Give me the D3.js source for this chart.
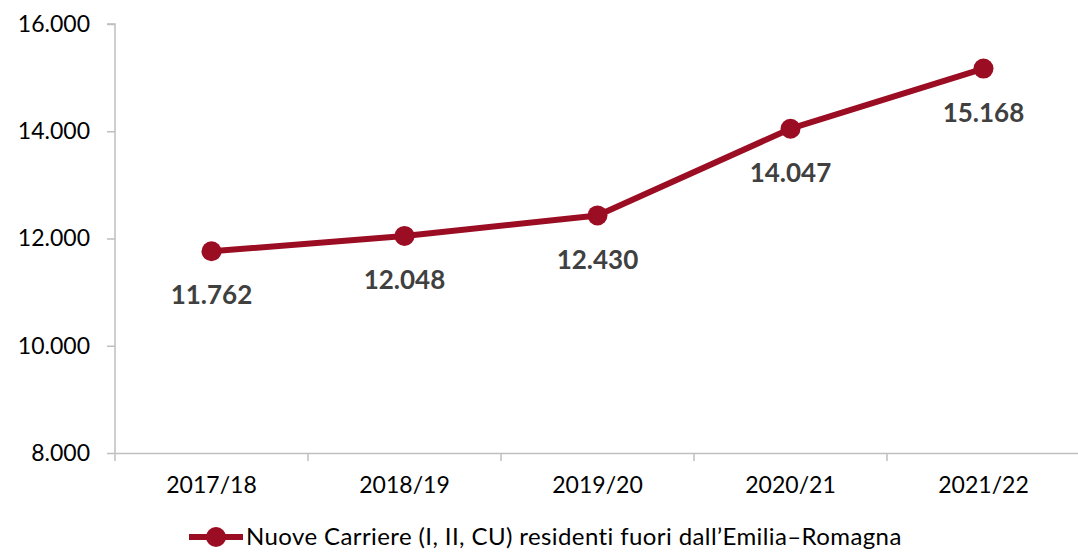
<!DOCTYPE html>
<html>
<head>
<meta charset="utf-8">
<script src="https://cdn.jsdelivr.net/npm/d3@7"></script>
<style>
    body { margin: 0; background: #fff; }
    text { font-family: Lato, "Noto Sans", sans-serif; }
</style>
</head>
<body>
<svg width="1078" height="553"></svg>
<script>
var years = ["2017/18", "2018/19", "2019/20", "2020/21", "2021/22"];
var careers = [11762, 12048, 12430, 14047, 15168];
var yTicks = [8000, 10000, 12000, 14000, 16000];
var seriesName = "Nuove Carriere (I, II, CU) residenti fuori dall\u2019Emilia\u2013Romagna";

var red = "#9b0d23";
var svg = d3.select("svg");

var fmt = d3.formatLocale({ decimal: ",", thousands: ".", grouping: [3], currency: ["", "€"] }).format(",");

var xScale = d3.scaleBand().domain(years).range([115, 1080]);
var yScale = d3.scaleLinear().domain([8000, 16000]).range([453, 24]);

// Y axis
var yAxis = d3.axisLeft(yScale).tickValues(yTicks).tickSize(8).tickFormat(fmt);
var yG = svg.append("g").attr("transform", "translate(115,0)").call(yAxis);
yG.select(".domain").attr("stroke", "#bfbfbf").attr("stroke-width", 1.5).attr("d", "M-8,24H0V453");
yG.selectAll(".tick line").attr("stroke", "#bfbfbf").attr("stroke-width", 1.5);
yG.selectAll(".tick text").attr("x", -25).attr("fill", "#000").style("font-size", "23px");

// X axis
var xAxis = d3.axisBottom(xScale).tickSize(0).tickSizeOuter(0);
var xG = svg.append("g").attr("transform", "translate(0,453)").call(xAxis);
xG.select(".domain").attr("stroke", "#bfbfbf").attr("stroke-width", 1.5);
xG.selectAll(".tick text").attr("y", 24).attr("dy", "0.71em").attr("fill", "#000").style("font-size", "23px");

// X tick marks at band edges
var edges = years.map(d => xScale(d)).concat([xScale.range()[1]]);
xG.selectAll(".edge")
    .data(edges)
    .enter()
    .append("line")
    .attr("x1", d => d)
    .attr("x2", d => d)
    .attr("y1", 0)
    .attr("y2", 8)
    .attr("stroke", "#bfbfbf")
    .attr("stroke-width", 1.5);

var cx = d => xScale(d) + xScale.bandwidth() / 2;

// Line
var line = d3.line()
    .x((d, i) => cx(years[i]))
    .y(d => yScale(d));

svg.append("path")
    .attr("d", line(careers))
    .attr("fill", "none")
    .attr("stroke", red)
    .attr("stroke-width", 6)
    .attr("stroke-linejoin", "round");

svg.selectAll(".dot")
    .data(careers)
    .enter()
    .append("circle")
    .attr("cx", (d, i) => cx(years[i]))
    .attr("cy", d => yScale(d))
    .attr("r", 10)
    .attr("fill", red);

// Data labels
svg.selectAll(".lbl")
    .data(careers)
    .enter()
    .append("text")
    .attr("x", (d, i) => cx(years[i]))
    .attr("y", d => yScale(d) + 44)
    .attr("dy", "0.35em")
    .attr("text-anchor", "middle")
    .attr("fill", "#404040")
    .style("font-size", "26px")
    .style("font-weight", "bold")
    .text(d => fmt(d));

// Legend
var lg = svg.append("g").attr("transform", "translate(0,537)");
lg.append("line")
    .attr("x1", 189).attr("x2", 243)
    .attr("y1", 0).attr("y2", 0)
    .attr("stroke", red).attr("stroke-width", 6);
lg.append("circle").attr("cx", 216).attr("cy", 0).attr("r", 10).attr("fill", red);
lg.append("text")
    .attr("x", 246)
    .attr("dy", "0.35em")
    .attr("fill", "#000")
    .style("font-size", "24px")
    .style("letter-spacing", "0.4px")
    .text(seriesName);
</script>
</body>
</html>
